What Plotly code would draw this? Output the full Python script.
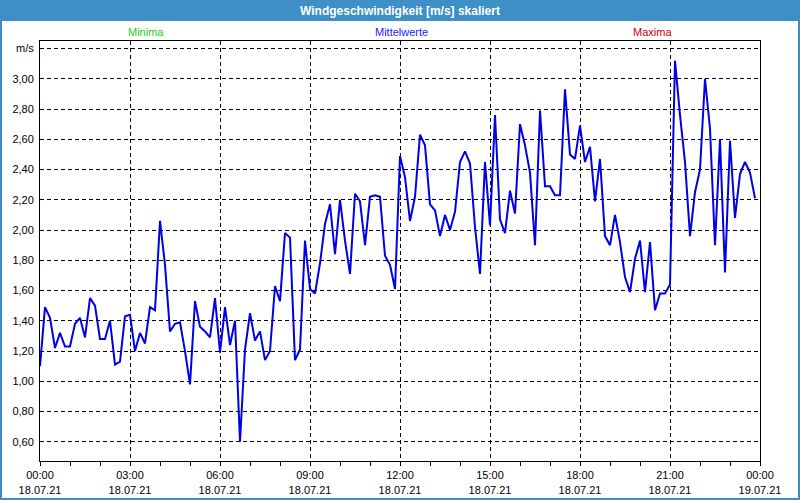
import pandas as pd
import plotly.graph_objects as go

# 10-minute mean wind speed values, 18.07.21 00:00 .. 23:50
wind = [
    1.10, 1.49, 1.42, 1.22, 1.32, 1.23, 1.23, 1.38, 1.42, 1.29,
    1.55, 1.50, 1.28, 1.28, 1.40, 1.11, 1.13, 1.43, 1.44, 1.20,
    1.32, 1.25, 1.49, 1.47, 2.06, 1.77, 1.33, 1.38, 1.39, 1.20,
    0.98, 1.53, 1.36, 1.33, 1.29, 1.55, 1.19, 1.49, 1.24, 1.40,
    0.60, 1.21, 1.45, 1.27, 1.33, 1.14, 1.20, 1.63, 1.53, 1.98,
    1.95, 1.14, 1.21, 1.93, 1.61, 1.58, 1.78, 2.04, 2.17, 1.84,
    2.20, 1.93, 1.71, 2.24, 2.19, 1.90, 2.22, 2.23, 2.22, 1.83,
    1.77, 1.61, 2.49, 2.35, 2.06, 2.22, 2.63, 2.56, 2.17, 2.13,
    1.96, 2.10, 2.00, 2.12, 2.45, 2.52, 2.44, 2.02, 1.71, 2.45,
    2.03, 2.76, 2.07, 1.98, 2.26, 2.11, 2.70, 2.56, 2.38, 1.90,
    2.79, 2.29, 2.29, 2.23, 2.23, 2.93, 2.50, 2.47, 2.69, 2.45,
    2.55, 2.19, 2.47, 1.96, 1.90, 2.10, 1.92, 1.69, 1.59, 1.81,
    1.93, 1.59, 1.92, 1.47, 1.58, 1.58, 1.64, 3.12, 2.76, 2.45,
    1.96, 2.25, 2.40, 3.00, 2.67, 1.90, 2.60, 1.72, 2.59, 2.08,
    2.37, 2.45, 2.38, 2.21,
]
start = "2021-07-18 00:00"
end = "2021-07-19 00:00"
times = pd.date_range(start, periods=len(wind), freq="10min")

y_ticks = [0.6, 0.8, 1.0, 1.2, 1.4, 1.6, 1.8, 2.0, 2.2, 2.4, 2.6, 2.8, 3.0, 3.2]
y_text = [f"{v:.2f}".replace(".", ",") for v in y_ticks[:-1]] + ["m/s"]
x_ticks = pd.date_range(start, end, freq="3h")
x_text = [f"{t:%H:%M}<br>{t:%d.%m.%y}" for t in x_ticks]

title = "Windgeschwindigkeit [m/s] skaliert"
legend_labels = ["Minima", "Mittelwerte", "Maxima"]
legend_colors = ["#22cc22", "#2020ff", "#c80000"]

FONT = "Liberation Sans, Arial, sans-serif"
BAR = "#3d8fc6"

# plot area geometry in pixels
L, R, T, B = 40, 40, 41, 39
W, H = 800, 500
pw, ph = W - L - R, H - T - B


def px(xpix):
    return (xpix - L) / pw


def py(ypix):
    return (H - B - ypix) / ph


fig = go.Figure()
fig.add_trace(go.Scatter(
    x=times, y=wind, mode="lines",
    line=dict(color="#0000e6", width=2),
    hoverinfo="skip", showlegend=False,
))

fig.update_layout(
    width=W, height=H,
    margin=dict(l=L, r=R, t=T, b=B, pad=0),
    paper_bgcolor="white", plot_bgcolor="white",
    font=dict(family=FONT, size=11, color="black"),
    showlegend=False,
)
fig.update_xaxes(
    type="date", range=[start, end], autorange=False,
    tickvals=list(x_ticks), ticktext=x_text,
    ticks="outside", ticklen=4, tickcolor="black",
    showgrid=True, gridcolor="black", griddash="4px,3px", gridwidth=1,
    showline=True, linecolor="black", linewidth=1, mirror=True,
    zeroline=False, automargin=False,
    minor=dict(dtick=3600000, ticks="outside", ticklen=4,
               tickcolor="black", showgrid=False),
    tickfont=dict(family=FONT, size=11, color="black"),
)
fig.update_yaxes(
    range=[0.473, 3.25], autorange=False,
    tickvals=y_ticks, ticktext=y_text, ticks="",
    ticklabelstandoff=3,
    showgrid=True, gridcolor="black", griddash="4px,3px", gridwidth=1,
    showline=True, linecolor="black", linewidth=1, mirror=True,
    zeroline=False, automargin=False,
    tickfont=dict(family=FONT, size=11, color="black"),
)

shapes = [
    dict(type="rect", xref="paper", yref="paper",
         x0=px(0), x1=px(W), y0=py(21), y1=py(0),
         fillcolor=BAR, line=dict(width=0), layer="above"),
    dict(type="rect", xref="paper", yref="paper",
         x0=px(1), x1=px(W - 1), y0=py(H - 1), y1=py(1),
         fillcolor="rgba(0,0,0,0)", line=dict(color=BAR, width=2), layer="above"),
]
fig.update_layout(shapes=shapes)

annotations = [
    dict(text=f"<b>{title}</b>", xref="paper", yref="paper",
         x=px(W / 2), y=py(10.5), showarrow=False,
         xanchor="center", yanchor="middle",
         font=dict(family=FONT, size=12, color="white")),
]
for lab, col, xc in zip(legend_labels, legend_colors, [146, 401, 652]):
    annotations.append(dict(
        text=lab, xref="paper", yref="paper", x=px(xc), y=py(32),
        showarrow=False, xanchor="center", yanchor="middle",
        font=dict(family=FONT, size=11, color=col)))
fig.update_layout(annotations=annotations)

fig.write_html(
    "out.html",
    config={"displayModeBar": False},
    post_script="document.body.style.margin='0';document.body.style.padding='0';",
)
